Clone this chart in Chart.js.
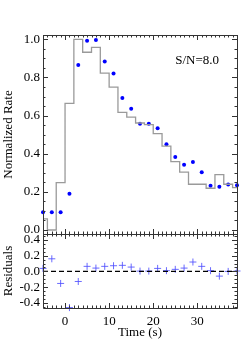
<!DOCTYPE html>
<html>
<head>
<meta charset="utf-8">
<script src="https://cdn.jsdelivr.net/npm/chart.js@4"></script>
<style>
  html, body { margin: 0; padding: 0; background: #fff; }
  #wrap { position: relative; width: 250px; height: 350px; }
  #wrap canvas { position: absolute; left: 0; top: 0; }
</style>
</head>
<body>
<div id="wrap">
  <canvas id="rateChart" width="250" height="350"></canvas>
  <canvas id="residChart" width="250" height="350"></canvas>
</div>
<script>
// ---- data ----
const timeBins = [-5, -3, -1, 1, 3, 5, 7, 9, 11, 13, 15, 17, 19, 21, 23, 25, 27, 29, 31, 33, 35, 37, 39];
const rate = [0.093, 0.093, 0.093, 0.19, 0.865, 0.993, 0.996, 0.883, 0.82, 0.692, 0.636, 0.557,
              0.557, 0.533, 0.449, 0.383, 0.342, 0.357, 0.303, 0.232, 0.227, 0.238, 0.234];
const residual = [0.038, 0.16, -0.153, -0.46, -0.128, 0.064, 0.042, 0.064, 0.072, 0.077, 0.055, 0.004,
                  0.004, 0.038, 0.009, 0.026, 0.042, 0.119, 0.064, 0.009, -0.06, 0.0, 0.005];

// model histogram: left edge of each bin (last entry closes the plot)
const modelEdges = [-5, -4, -2, 0, 2, 4, 6, 8, 10, 12, 14, 16, 18, 20, 22, 24, 26, 28, 30, 32, 34, 36, 38, 39];
const modelRate = [0.058, 0, 0.248, 0.664, 1.0, 0.932, 0.958, 0.823, 0.749, 0.617, 0.592, 0.561,
                   0.553, 0.505, 0.44, 0.358, 0.303, 0.24, 0.24, 0.219, 0.29, 0.24, 0.222, 0.222];

const timeTicks = [0, 10, 20, 30];
const rateTicks = [0, 0.2, 0.4, 0.6, 0.8, 1.0];
const residTicks = [-0.4, -0.2, 0, 0.2, 0.4];
const snLabel = 'S/N=8.0';

Chart.defaults.font.family = "'Liberation Serif', 'Times New Roman', serif";
Chart.defaults.font.size = 13;
Chart.defaults.color = '#000';
Chart.defaults.animation = false;

const AXIS = '#333';

// box frame with inward IDL-style ticks on all four sides
const framePlugin = {
    id: 'frame',
    afterDraw(chart, args, opts) {
        const {ctx, chartArea: a, scales} = chart;
        const x = scales.x, y = scales.y;
        const seg = (x1, y1, x2, y2) => { ctx.moveTo(x1, y1); ctx.lineTo(x2, y2); };
        ctx.save();
        ctx.strokeStyle = AXIS;
        ctx.lineWidth = 1;
        ctx.beginPath();
        ctx.rect(a.left + 0.5, a.top + 0.5, a.right - a.left, a.bottom - a.top);
        for (let v = Math.ceil(x.min); v <= x.max; v++) {
            const len = v % 10 === 0 ? 5 : 2.5;
            const px = Math.round(x.getPixelForValue(v)) + 0.5;
            seg(px, a.top, px, a.top + len);
            seg(px, a.bottom, px, a.bottom - len);
        }
        const m = opts.yMinor;
        for (let k = Math.ceil(y.min / m); k * m <= y.max + 1e-9; k++) {
            const len = k % opts.perMajor === 0 ? 5 : 2.5;
            const py = Math.round(y.getPixelForValue(k * m)) + 0.5;
            seg(a.left, py, a.left + len, py);
            seg(a.right, py, a.right - len, py);
        }
        ctx.stroke();
        if (opts.label) {
            ctx.fillStyle = '#000';
            ctx.font = "13px 'Liberation Serif', serif";
            ctx.textBaseline = 'middle';
            ctx.fillText(opts.label, x.getPixelForValue(25), y.getPixelForValue(0.89));
        }
        ctx.restore();
    }
};

const fixTicks = list => scale => { scale.ticks = list.map(v => ({value: v})); };
const fmt1 = v => v.toFixed(1);
const noGrid = {display: false, drawTicks: false, tickLength: 0};

new Chart(document.getElementById('rateChart'), {
    type: 'scatter',
    data: {
        datasets: [{
            type: 'line',
            data: modelEdges.map((t, i) => ({x: t, y: modelRate[i]})),
            stepped: 'before',
            borderColor: '#9a9a9a',
            borderWidth: 1.3,
            pointRadius: 0,
            fill: false
        }, {
            data: timeBins.map((t, i) => ({x: t, y: rate[i]})),
            pointRadius: 2,
            pointBackgroundColor: '#0000ff',
            pointBorderWidth: 0,
            clip: false
        }]
    },
    options: {
        responsive: false,
        events: [],
        layout: {padding: {left: 0, right: 13, top: 35, bottom: 116}},
        plugins: {
            legend: {display: false},
            tooltip: {enabled: false},
            frame: {yMinor: 0.05, perMajor: 4, label: snLabel}
        },
        scales: {
            x: {type: 'linear', min: -5, max: 39, display: false},
            y: {
                min: -0.021, max: 1.0225,
                afterFit: s => { s.width = 43; },
                afterBuildTicks: fixTicks(rateTicks),
                grid: noGrid,
                border: {display: false},
                ticks: {padding: 3, autoSkip: false, callback: fmt1},
                title: {display: true, text: 'Normalized Rate', padding: {top: 1, bottom: 0}}
            }
        }
    },
    plugins: [framePlugin]
});

new Chart(document.getElementById('residChart'), {
    type: 'scatter',
    data: {
        datasets: [{
            type: 'line',
            data: [{x: -5, y: 0}, {x: 39, y: 0}],
            borderColor: '#000',
            borderWidth: 1.2,
            borderDash: [5, 3],
            pointRadius: 0
        }, {
            data: timeBins.map((t, i) => ({x: t, y: residual[i]})),
            pointStyle: 'cross',
            pointRadius: 3.5,
            pointBorderColor: 'rgba(80,80,255,0.85)',
            pointBorderWidth: 1,
            clip: false
        }]
    },
    options: {
        responsive: false,
        events: [],
        layout: {padding: {left: 0, right: 13, top: 234, bottom: 0}},
        plugins: {
            legend: {display: false},
            tooltip: {enabled: false},
            frame: {yMinor: 0.05, perMajor: 4}
        },
        scales: {
            x: {
                type: 'linear', min: -5, max: 39,
                afterFit: s => { s.height = 42; },
                afterBuildTicks: fixTicks(timeTicks),
                grid: noGrid,
                border: {display: false},
                ticks: {padding: 6, autoSkip: false, maxRotation: 0},
                title: {display: true, text: 'Time (s)', padding: {top: 0, bottom: 10}}
            },
            y: {
                min: -0.465, max: 0.475,
                afterFit: s => { s.width = 43; },
                afterBuildTicks: fixTicks(residTicks),
                grid: noGrid,
                border: {display: false},
                ticks: {padding: 3, autoSkip: false, callback: fmt1},
                title: {display: true, text: 'Residuals', padding: {top: 1, bottom: 0}}
            }
        }
    },
    plugins: [framePlugin]
});
</script>
</body>
</html>
